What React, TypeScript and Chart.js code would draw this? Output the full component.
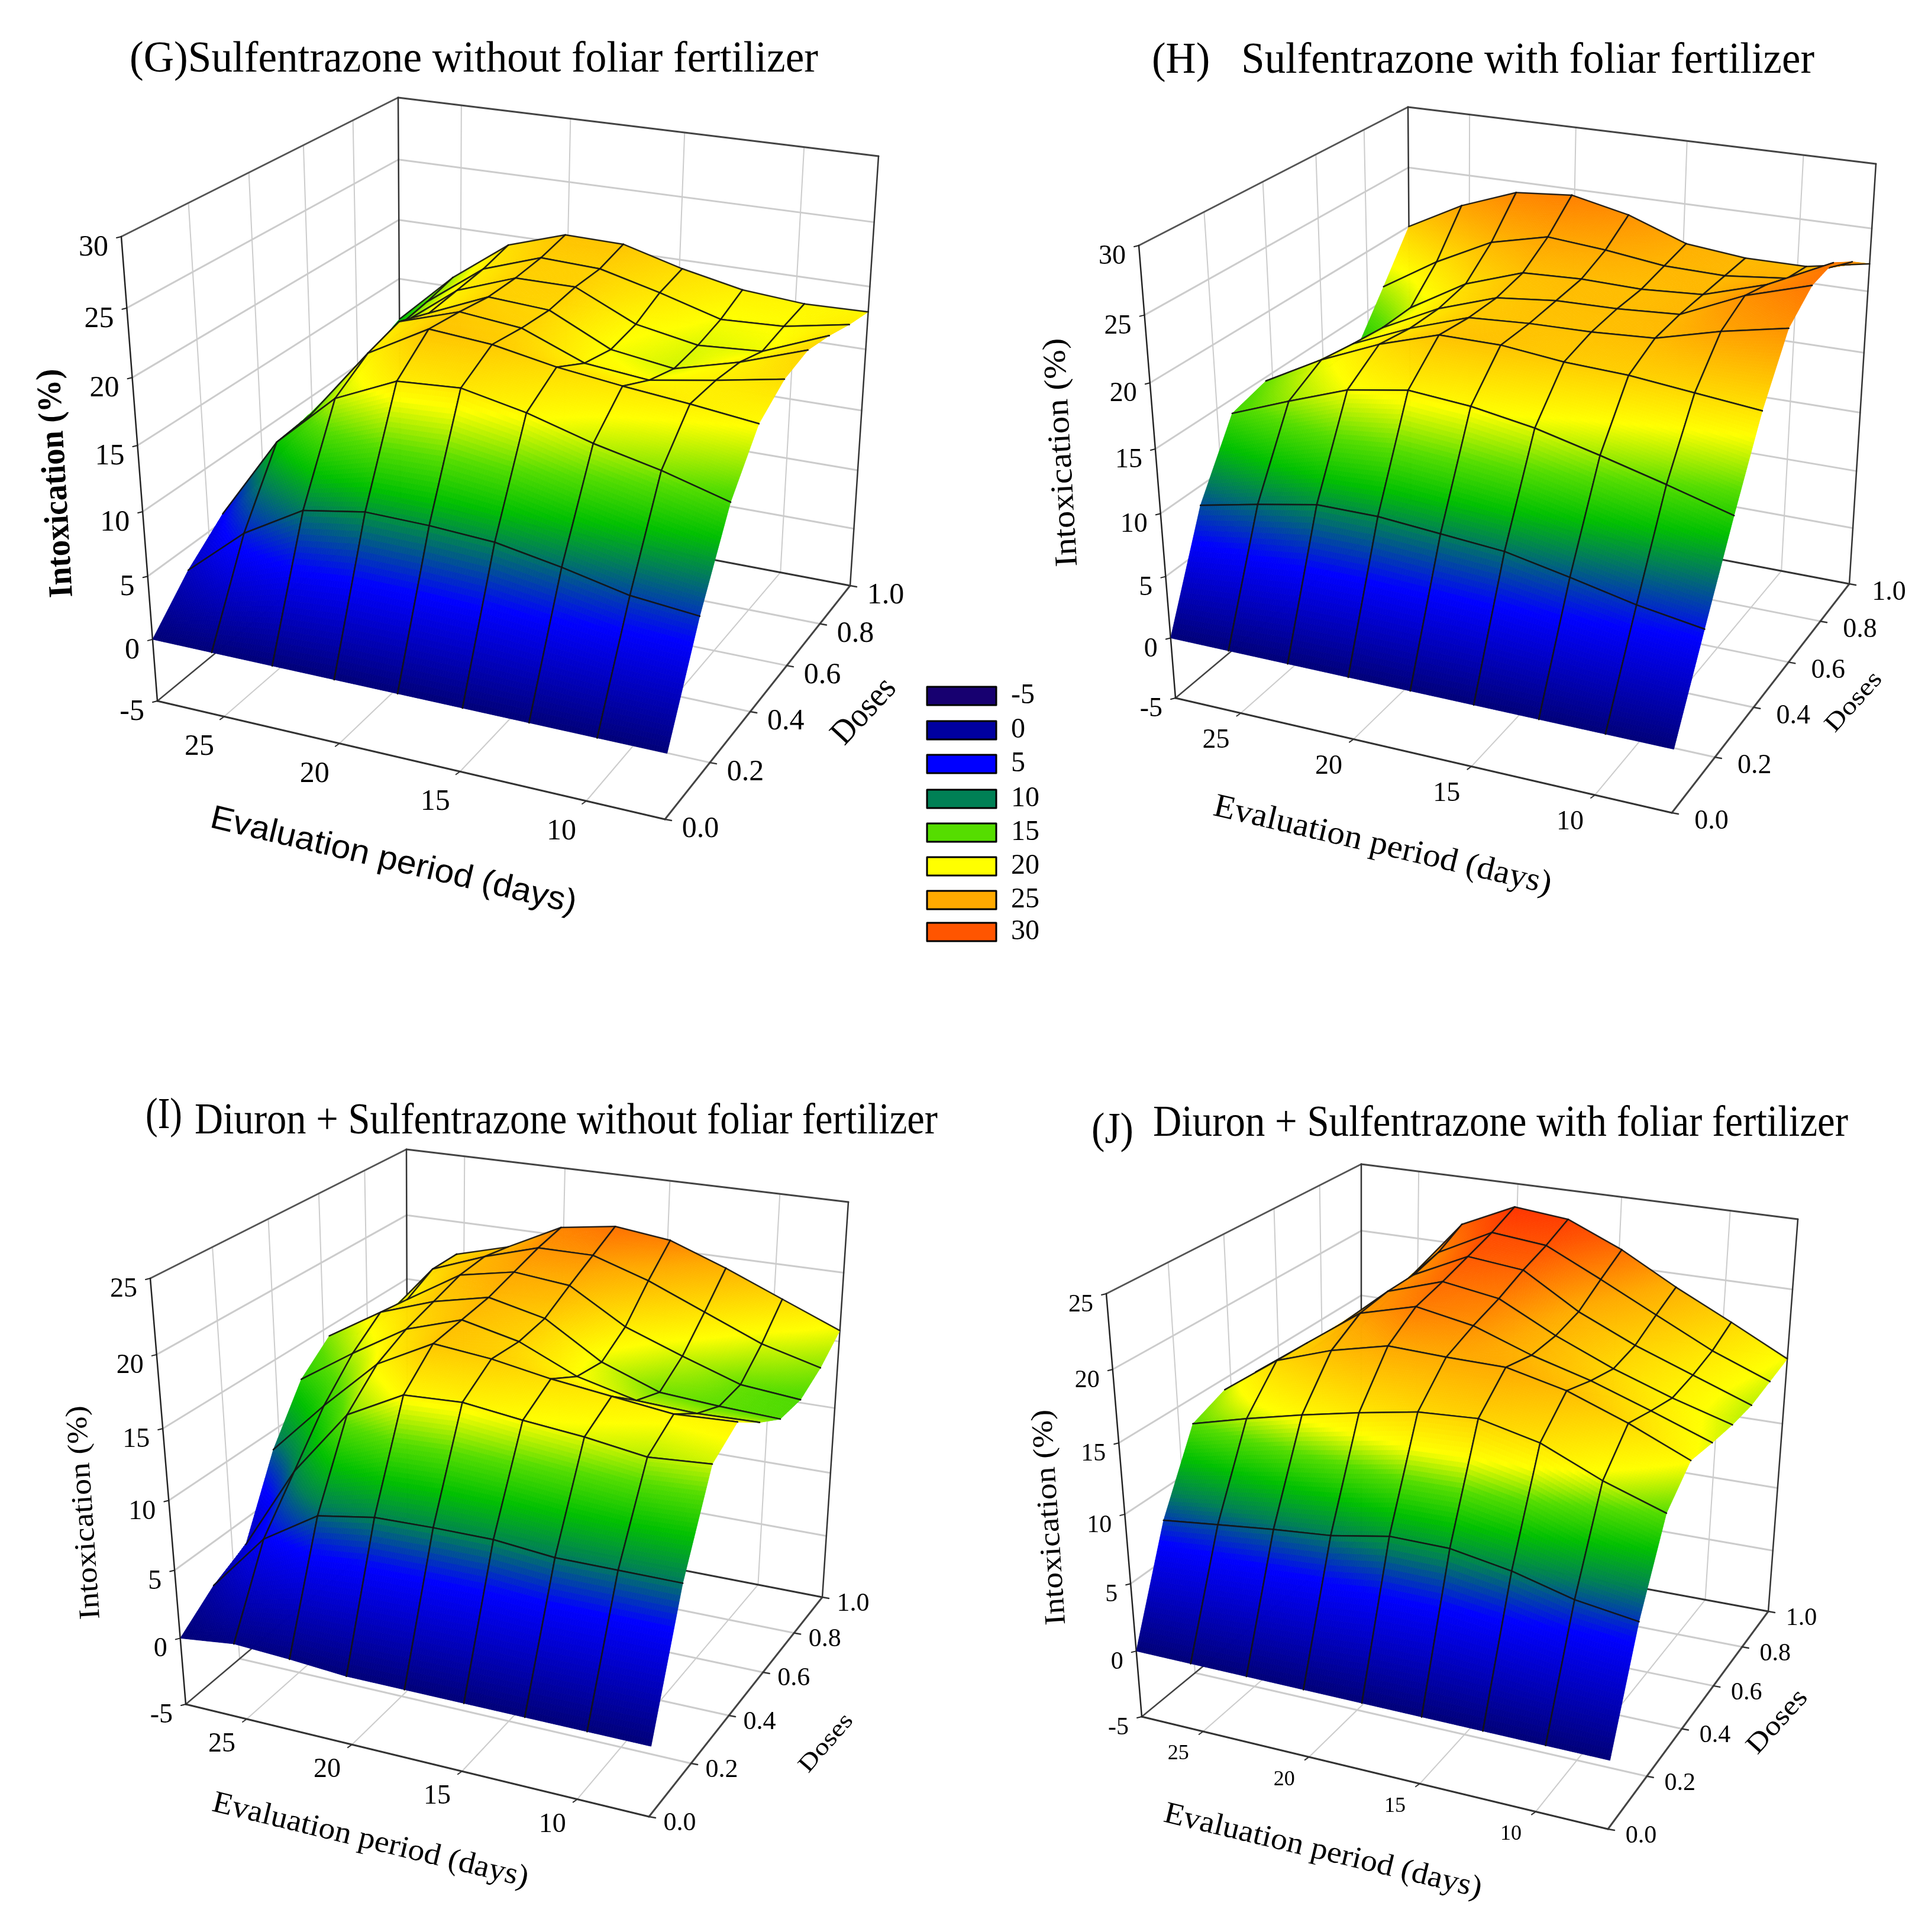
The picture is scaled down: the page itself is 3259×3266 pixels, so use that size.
import React, { useEffect, useRef } from "react";
import { Chart, registerables } from "chart.js";
Chart.register(...registerables);

const W = 3259, H = 3266;
const PERIODS = [28, 25.375, 22.75, 20.125, 17.5, 14.875, 12.25, 9.625, 7];
const DOSES = [0, 0.125, 0.25, 0.375, 0.5, 0.625, 0.75, 0.875, 1];
const PERIOD_TICKS = [25, 20, 15, 10];
const DOSE_TICKS = ["0.0", "0.2", "0.4", "0.6", "0.8", "1.0"];
const Z_TICKS_30 = [-5, 0, 5, 10, 15, 20, 25, 30];
const Z_TICKS_25 = [-5, 0, 5, 10, 15, 20, 25];
const LEGEND_LABELS = ["-5", "0", "5", "10", "15", "20", "25", "30"];
const LEGEND_COLORS = ["#170070", "#0000a0", "#0000ff", "#008055", "#55dd00", "#ffff00", "#ffaa00", "#ff5500"];

const G_VALUES = [
  [0, 0, 0, 0, 0, 0, 0, 0, 0],
  [3.2, 7.1, 9.8, 10.6, 10.5, 10.2, 9.3, 8.2, 7.7],
  [5.6, 12.2, 16.4, 18.5, 18.8, 17.8, 16.4, 15.3, 13.9],
  [6, 12.5, 18.1, 20.7, 20.3, 19.4, 18.8, 18.3, 17.7],
  [7.5, 13, 18.9, 20.4, 19.9, 18, 17.5, 18.3, 19.2],
  [8, 14.1, 18, 20, 19.7, 17.4, 16.7, 18, 19.7],
  [8.8, 14.8, 18.3, 20, 20, 17.8, 16.9, 17.2, 19.2],
  [10.4, 15.2, 18.6, 20.2, 20, 18.8, 17.4, 17.6, 18.5],
  [11.5, 15.8, 19.2, 20.7, 20.6, 19.3, 18.3, 17.9, 18],
];
const H_VALUES = [
  [0, 0, 0, 0, 0, 0, 0, 0, 0],
  [8.5, 9.5, 10.4, 10.4, 10, 9.6, 8.6, 7.5, 6.7],
  [13.9, 15.7, 17.4, 18.2, 17.8, 17, 15.8, 14.5, 13.1],
  [14.7, 17.2, 19.2, 20.7, 20.7, 20.2, 20, 19.5, 19],
  [13.5, 16.8, 18.8, 20.4, 20.7, 20.8, 21.1, 22.4, 23.4],
  [12.5, 16.5, 18.8, 20.4, 20.9, 21, 21.3, 23.5, 25],
  [12.5, 16.6, 19.3, 20.9, 21.1, 21, 21.3, 22.8, 25.2],
  [16.2, 19, 21.3, 22.4, 22, 21.4, 21.3, 21.8, 23.8],
  [20, 22.4, 24.1, 24.5, 23.5, 21.8, 21.3, 21.3, 22.2],
];
const I_VALUES = [
  [0, 0.5, 0.3, 0, 0, 0, 0, 0, 0],
  [1.9, 6.2, 8.7, 9.4, 9.5, 9.5, 9.1, 9.1, 9.1],
  [3.1, 9.4, 14.2, 16.3, 16.5, 16, 15.6, 15, 15.3],
  [8.6, 12.6, 16.3, 18.4, 18, 17.3, 16.8, 16.3, 16.5],
  [12.4, 15, 17.4, 18.7, 17.8, 16, 15, 14.8, 14.9],
  [14.3, 16.7, 18.1, 19, 18.1, 15.6, 14.1, 13.8, 13.6],
  [13.1, 16.4, 18.8, 19.6, 19.2, 16.8, 15.3, 13.9, 13.5],
  [13, 17.5, 19, 20.2, 20.2, 18.9, 17.2, 15.5, 14.4],
  [13.7, 17.5, 18.6, 20.6, 21.2, 20.7, 19.2, 17.5, 15.8],
];
const J_VALUES = [
  [0, 0, 0, 0, 0, 0, 0, 0, 0],
  [7.8, 8.3, 8.8, 9.2, 10, 10, 9.3, 8.2, 7.6],
  [13.2, 14.3, 15.3, 16.2, 17, 17.3, 16.4, 14.6, 13.2],
  [14.2, 17, 18.4, 19.4, 19.3, 19.3, 18.4, 16.9, 15.1],
  [14.1, 16.9, 19.7, 20.8, 20.1, 18.7, 17.6, 16.2, 14.7],
  [13.6, 16.7, 20, 21.3, 20.7, 18.7, 17, 15.6, 14.4],
  [13.2, 16.5, 20, 21.9, 21.5, 19.1, 17.3, 15.8, 14.3],
  [12.9, 16.6, 20.5, 22.5, 22.1, 20.2, 18.2, 16.2, 14.6],
  [12.6, 17, 21.5, 23.3, 22.9, 21.2, 19, 17, 14.9],
];

const STOPS_G = [[-5, "#170070"], [0, "#000078"], [6.2, "#0000ff"], [10, "#008055"], [12, "#00c000"], [14.5, "#55dd00"], [17.5, "#ffff00"], [22, "#ffaa00"], [27, "#ff5500"], [30, "#ff2200"]];
const STOPS_I = [[-5, "#170070"], [0, "#000078"], [6.5, "#0000ff"], [9.3, "#008055"], [11.5, "#00c000"], [13.7, "#55dd00"], [16, "#ffff00"], [19.5, "#ffaa00"], [22, "#ff5500"], [24, "#ff2200"]];
const STOPS_J = [[-5, "#170070"], [0, "#000078"], [6.5, "#0000ff"], [9.3, "#008055"], [11.3, "#00c000"], [13.2, "#55dd00"], [15, "#ffff00"], [19.3, "#ffaa00"], [22, "#ff5500"], [24, "#ff2200"]];

const SERIF = '"Liberation Serif", serif';
const SANS = '"Liberation Sans", sans-serif';

// box corners: floor (f) and top (t); FL = period max/dose 0, FR = period min/dose 0, BR = period min/dose 1, BL = period max/dose 1
const PANELS = [
  {
    id: "G", values: G_VALUES, zTop: 30, zTicks: Z_TICKS_30, stops: STOPS_G,
    f: { FL: [266, 1185], FR: [1124, 1385], BR: [1437, 990], BL: [677, 846] },
    t: { FL: [205, 400], FR: [1151, 545], BR: [1485, 264], BL: [673, 165] },
    zFont: 50, pFont: 50, dFont: 50, pdy: 52, ddx: 60, ddy: 17,
    titles: [{ text: "(G)Sulfentrazone without foliar fertilizer", x: 219, w: 1164, base: 121 }],
    xTitle: { font: SANS, text: "Evaluation period (days)", cx: 665, cy: 1456, w: 634, rot: 13.3, size: 56 },
    yTitle: { font: "bold 58px " + SERIF, cx: 96, cy: 817, w: 387, rot: -93.3 },
    dTitle: { cx: 1461, cy: 1203, w: 132, rot: -47, size: 58 },
  },
  {
    id: "H", values: H_VALUES, zTop: 30, zTicks: Z_TICKS_30, stops: STOPS_G,
    f: { FL: [1987, 1180], FR: [2826, 1374], BR: [3126, 987], BL: [2385, 846] },
    t: { FL: [1925, 415], FR: [2851, 564], BR: [3171, 277], BL: [2380, 181] },
    zFont: 46, pFont: 46, dFont: 46, pdy: 46, ddx: 67, ddy: 15,
    titles: [{ text: "(H)   Sulfentrazone with foliar fertilizer", x: 1947, w: 1120, base: 123 }],
    xTitle: { font: SERIF, text: "Evaluation period (days)", cx: 2337, cy: 1430, w: 585, rot: 13.2, size: 56 },
    yTitle: { font: "54px " + SERIF, cx: 1795, cy: 765, w: 387, rot: -93.3 },
    dTitle: { cx: 3134, cy: 1187, w: 122, rot: -48, size: 42 },
  },
  {
    id: "I", values: I_VALUES, zTop: 25, zTicks: Z_TICKS_25, stops: STOPS_I,
    f: { FL: [314, 2881], FR: [1097, 3071], BR: [1390, 2700], BL: [689, 2564] },
    t: { FL: [254, 2161], FR: [1120, 2304], BR: [1434, 2032], BL: [687, 1943] },
    zFont: 46, pFont: 46, dFont: 44, pdy: 43, ddx: 52, ddy: 11,
    titles: [
      { text: "(I)", x: 246, w: 62, base: 1907 },
      { text: "Diuron + Sulfentrazone without foliar fertilizer", x: 329, w: 1256, base: 1916 },
    ],
    xTitle: { font: SERIF, text: "Evaluation period (days)", cx: 626, cy: 3112, w: 548, rot: 13.6, size: 52 },
    yTitle: { font: "50px " + SERIF, cx: 143, cy: 2557, w: 362, rot: -93.8 },
    dTitle: { cx: 1397, cy: 2947, w: 118, rot: -49, size: 40 },
  },
  {
    id: "J", values: J_VALUES, zTop: 25, zTicks: Z_TICKS_25, stops: STOPS_J,
    f: { FL: [1930, 2902], FR: [2718, 3092], BR: [2989, 2724], BL: [2301, 2597] },
    t: { FL: [1870, 2187], FR: [2740, 2343], BR: [3039, 2061], BL: [2301, 1968] },
    zFont: 42, pFont: 36, dFont: 42, pdy: 38, ddx: 56, ddy: 12,
    titles: [
      { text: "(J)", x: 1845, w: 71, base: 1932 },
      { text: "Diuron + Sulfentrazone with foliar fertilizer", x: 1949, w: 1175, base: 1920 },
    ],
    xTitle: { font: SERIF, text: "Evaluation period (days)", cx: 2236, cy: 3130, w: 551, rot: 13.5, size: 52 },
    yTitle: { font: "50px " + SERIF, cx: 1775, cy: 2565, w: 365, rot: -93.8 },
    dTitle: { cx: 3005, cy: 2911, w: 130, rot: -48, size: 46 },
  },
];

const LEGEND = { x: 1567, w: 117, h: 31, tops: [1161, 1219, 1276, 1335, 1392, 1449, 1506, 1560], tx: 1709 };

const warp = (t: number, k: number) => t / (t + k * (1 - t));
const KP = 1.1, KD = 0.78, KZ = 1.09;

function project(p: any, period: number, dose: number, z: number) {
  const u = warp((28 - period) / 21, KP);
  const v = warp(dose, KD);
  const w = warp((z + 5) / (p.zTop + 5), KZ);
  const bil = (c: any, a: number) =>
    (1 - u) * (1 - v) * c.FL[a] + u * (1 - v) * c.FR[a] + u * v * c.BR[a] + (1 - u) * v * c.BL[a];
  return {
    x: bil(p.f, 0) * (1 - w) + bil(p.t, 0) * w,
    y: bil(p.f, 1) * (1 - w) + bil(p.t, 1) * w,
  };
}

const hex = (s: string) => [1, 3, 5].map((i) => parseInt(s.slice(i, i + 2), 16));
function colorAt(stops: any[], z: number) {
  if (z <= stops[0][0]) return stops[0][1];
  for (let k = 1; k < stops.length; k++) {
    if (z <= stops[k][0]) {
      const f = (z - stops[k - 1][0]) / (stops[k][0] - stops[k - 1][0]);
      const a = hex(stops[k - 1][1]), b = hex(stops[k][1]);
      return `rgb(${a.map((c, i) => Math.round(c + (b[i] - c) * f)).join(",")})`;
    }
  }
  return stops[stops.length - 1][1];
}

function fitText(ctx: any, text: string, cx: number, cy: number, font: string, rotDeg: number, width?: number) {
  ctx.save();
  ctx.font = font;
  ctx.fillStyle = "#000";
  ctx.textAlign = "center";
  ctx.textBaseline = "middle";
  ctx.translate(cx, cy);
  ctx.rotate((rotDeg * Math.PI) / 180);
  if (width) ctx.scale(width / ctx.measureText(text).width, 1);
  ctx.fillText(text, 0, 0);
  ctx.restore();
}

const surfacePlugin = {
  id: "surface3d",
  afterDatasetsDraw(chart: any) {
    const ctx = chart.ctx;
    const sx = chart.scales.x, sy = chart.scales.y;
    const px = (pt: any) => [sx.getPixelForValue(pt.x), sy.getPixelForValue(pt.y)];
    const seg = (a: any, b: any, color: string, lw: number) => {
      const A = px(a), B = px(b);
      ctx.strokeStyle = color;
      ctx.lineWidth = lw;
      ctx.beginPath();
      ctx.moveTo(A[0], A[1]);
      ctx.lineTo(B[0], B[1]);
      ctx.stroke();
    };
    ctx.save();
    ctx.fillStyle = "#fff";
    ctx.fillRect(0, 0, W, H);
    ctx.lineCap = "round";
    PANELS.forEach((p: any, pi: number) => {
      const zMin = -5, zMax = p.zTop;
      const P = (period: number, dose: number, z: number) => project(p, period, dose, z);
      const pTop = PERIODS[0], pEnd = PERIODS[8];
      // walls and floor grid
      const GRID = "#cccccc";
      p.zTicks.slice(1, -1).forEach((z: number) => {
        seg(P(pTop, 0, z), P(pTop, 1, z), GRID, 3);
        seg(P(pTop, 1, z), P(pEnd, 1, z), GRID, 3);
      });
      DOSE_TICKS.slice(1, -1).forEach((d) => {
        seg(P(pTop, +d, zMin), P(pTop, +d, zMax), GRID, 2);
        seg(P(pTop, +d, zMin), P(pEnd, +d, zMin), GRID, 3);
      });
      PERIOD_TICKS.forEach((t) => {
        seg(P(t, 1, zMin), P(t, 1, zMax), GRID, 2);
        seg(P(t, 0, zMin), P(t, 1, zMin), GRID, 2);
      });
      const DARK = "#333333";
      seg(P(pTop, 0, zMax), P(pTop, 1, zMax), "#555555", 3);
      seg(P(pTop, 1, zMax), P(pEnd, 1, zMax), "#444444", 3);
      seg(P(pTop, 1, zMin), P(pTop, 1, zMax), DARK, 2.5);
      seg(P(pEnd, 1, zMin), P(pEnd, 1, zMax), DARK, 2.5);
      seg(P(pTop, 1, zMin), P(pEnd, 1, zMin), DARK, 3);
      seg(P(pTop, 0, zMin), P(pTop, 1, zMin), "#444444", 2.5);
      seg(P(pTop, 0, zMin), P(pEnd, 0, zMin), "#333333", 3);
      seg(P(pEnd, 0, zMin), P(pEnd, 1, zMin), "#444444", 3);
      seg(P(pTop, 0, zMin), P(pTop, 0, zMax), "#222222", 2.5);

      // surface, far to near
      const ds = chart.data.datasets.filter((d: any) => d.panel === pi);
      const N = 26;
      for (let j = 7; j >= 0; j--) {
        const r0 = ds[j].data, r1 = ds[j + 1].data;
        for (let i = 0; i < 8; i++) {
          const a = px(r0[i]), b = px(r0[i + 1]), c = px(r1[i + 1]), d = px(r1[i]);
          const za = r0[i].z, zb = r0[i + 1].z, zc = r1[i + 1].z, zd = r1[i].z;
          const at = (s: number, q: number) => [
            (1 - s) * (1 - q) * a[0] + s * (1 - q) * b[0] + s * q * c[0] + (1 - s) * q * d[0],
            (1 - s) * (1 - q) * a[1] + s * (1 - q) * b[1] + s * q * c[1] + (1 - s) * q * d[1],
          ];
          ctx.lineCap = "butt";
          ctx.lineJoin = "round";
          for (let q = N - 1; q >= 0; q--) {
            for (let s = 0; s < N; s++) {
              const s0 = s / N, s1 = (s + 1) / N, q0 = q / N, q1 = (q + 1) / N;
              const sm = (s0 + s1) / 2, qm = (q0 + q1) / 2;
              const z = (1 - sm) * (1 - qm) * za + sm * (1 - qm) * zb + sm * qm * zc + (1 - sm) * qm * zd;
              const col = colorAt(p.stops, z);
              ctx.fillStyle = col;
              ctx.strokeStyle = col;
              ctx.lineWidth = 0.8;
              ctx.beginPath();
              const v0 = at(s0, q0), v1 = at(s1, q0), v2 = at(s1, q1), v3 = at(s0, q1);
              ctx.moveTo(v0[0], v0[1]);
              ctx.lineTo(v1[0], v1[1]);
              ctx.lineTo(v2[0], v2[1]);
              ctx.lineTo(v3[0], v3[1]);
              ctx.closePath();
              ctx.fill();
              ctx.stroke();
            }
          }
          ctx.lineCap = "round";
          const LINE = "rgba(20,20,20,0.9)";
          seg(r1[i], r1[i + 1], LINE, 2.5);
          if (j > 0) seg(r0[i], r0[i + 1], LINE, 2.5);
          if (i > 0) seg(r0[i], r1[i], LINE, 2.5);
          if (i < 7) seg(r0[i + 1], r1[i + 1], LINE, 2.5);
        }
      }

      ctx.fillStyle = "#000";
      p.zTicks.forEach((z: number) => {
        const qq = P(pTop, 0, z);
        seg(qq, { x: qq.x - 8, y: qq.y + 2 }, "#222222", 2);
        ctx.font = `${p.zFont}px ${SERIF}`;
        ctx.textAlign = "right";
        ctx.textBaseline = "middle";
        ctx.fillStyle = "#000";
        const m = px(qq);
        ctx.fillText(String(z), m[0] - 22, m[1] + 19);
      });
      PERIOD_TICKS.forEach((t) => {
        const qq = P(t, 0, zMin);
        seg(qq, { x: qq.x - 7, y: qq.y + 5 }, "#333333", 2);
        const m = px(qq);
        ctx.font = `${p.pFont}px ${SERIF}`;
        ctx.textAlign = "center";
        ctx.textBaseline = "middle";
        ctx.fillStyle = "#000";
        ctx.fillText(String(t), m[0] - 42, m[1] + p.pdy);
      });
      DOSE_TICKS.forEach((d) => {
        const qq = P(pEnd, +d, zMin);
        seg(qq, { x: qq.x + 11, y: qq.y + 2 }, "#333333", 2.5);
        const m = px(qq);
        ctx.font = `${p.dFont}px ${SERIF}`;
        ctx.textAlign = "center";
        ctx.textBaseline = "middle";
        ctx.fillStyle = "#000";
        ctx.fillText(d, m[0] + p.ddx, m[1] + p.ddy);
      });

      // titles
      p.titles.forEach((t: any) => {
        ctx.save();
        ctx.font = `74px ${SERIF}`;
        ctx.fillStyle = "#000";
        ctx.textAlign = "left";
        ctx.textBaseline = "alphabetic";
        ctx.translate(t.x, t.base);
        ctx.scale(t.w / ctx.measureText(t.text).width, 1);
        ctx.fillText(t.text, 0, 0);
        ctx.restore();
      });
      const xt = p.xTitle;
      fitText(ctx, xt.text, xt.cx, xt.cy, `${xt.size}px ${xt.font}`, xt.rot, xt.w);
      const yt = p.yTitle;
      fitText(ctx, "Intoxication (%)", yt.cx, yt.cy, yt.font, yt.rot, yt.w);
      const dt = p.dTitle;
      fitText(ctx, "Doses", dt.cx, dt.cy, `${dt.size}px ${SERIF}`, dt.rot, dt.w);
    });

    // colour key
    LEGEND_LABELS.forEach((lab, k) => {
      const top = LEGEND.tops[k];
      ctx.fillStyle = LEGEND_COLORS[k];
      ctx.fillRect(sx.getPixelForValue(LEGEND.x), sy.getPixelForValue(top), LEGEND.w, LEGEND.h);
      ctx.strokeStyle = "#000";
      ctx.lineWidth = 3;
      ctx.strokeRect(sx.getPixelForValue(LEGEND.x), sy.getPixelForValue(top), LEGEND.w, LEGEND.h);
      ctx.fillStyle = "#000";
      ctx.font = `48px ${SERIF}`;
      ctx.textAlign = "left";
      ctx.textBaseline = "middle";
      ctx.fillText(lab, LEGEND.tx, top + LEGEND.h / 2);
    });
    ctx.restore();
  },
};

export default function App() {
  const ref = useRef<HTMLCanvasElement | null>(null);
  useEffect(() => {
    document.body.style.margin = "0";
    const datasets: any[] = [];
    PANELS.forEach((p: any, pi) => {
      p.values.forEach((row: number[], j: number) => {
        datasets.push({
          panel: pi,
          label: `${p.id} dose ${DOSES[j]}`,
          pointRadius: 0,
          showLine: false,
          data: row.map((z, i) => ({ ...project(p, PERIODS[i], DOSES[j], z), z })),
        });
      });
    });
    const chart = new Chart(ref.current as any, {
      type: "scatter",
      data: { datasets },
      options: {
        animation: false,
        responsive: false,
        devicePixelRatio: 1,
        layout: { padding: 0 },
        plugins: { legend: { display: false }, tooltip: { enabled: false } },
        scales: {
          x: { type: "linear", display: false, min: 0, max: W },
          y: { type: "linear", display: false, min: 0, max: H, reverse: true },
        },
      } as any,
      plugins: [surfacePlugin],
    } as any);
    return () => chart.destroy();
  }, []);
  return <canvas ref={ref} width={W} height={H} style={{ position: "absolute", left: 0, top: 0, width: W, height: H, display: "block" }} />;
}
